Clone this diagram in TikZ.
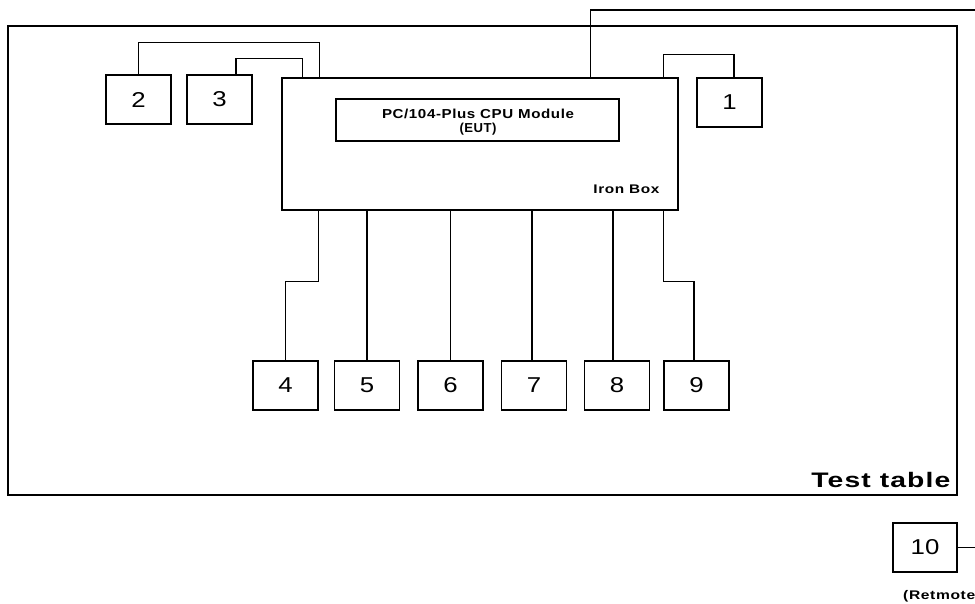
\documentclass[tikz,border=0pt]{standalone}
\usepackage{fontspec}
\setmainfont{Liberation Sans}
\newfontfamily\spaced{Liberation Sans}[LetterSpace=4]
\usetikzlibrary{calc}
\newcommand\wt[2]{\resizebox{#1}{\height}{#2}}
\newcommand\dg[1]{\scalebox{1.2}[1]{\fontsize{21.5}{21.5}\selectfont #1}}
\tikzset{
  frame/.style={draw=black, line width=1.2pt, rectangle, inner sep=0pt, fill=none},
  numbox/.style={frame, minimum width=65pt, minimum height=49pt},
  wire/.style={draw=black, line width=1.2pt},
  lbl/.style={inner sep=0pt, font=\spaced\bfseries}
}
\begin{document}
\begin{tikzpicture}[x=1pt, y=-1pt]
\useasboundingbox (0,0) rectangle (975,604);
% test table
\node[frame, minimum width=949pt, minimum height=469pt] (table) at (482.5,260.5) {};
\node[lbl, anchor=base east] (tt) at ([xshift=-7pt, yshift=8pt]table.south east) {\fontsize{21}{21}\selectfont\wt{139pt}{Test table}};
% iron box
\node[frame, minimum width=396pt, minimum height=132pt] (iron) at (480,144) {};
\node[lbl, anchor=base east] (ib) at ([xshift=-19pt, yshift=17pt]iron.south east) {\fontsize{12.5}{12}\selectfont\wt{66pt}{Iron Box}};
% cpu module
\node[frame, minimum width=283pt, minimum height=42pt] (cpu) at (477.5,120) {};
\node[lbl, anchor=base] (cpu1) at (478,119) {\fontsize{13}{13}\selectfont\wt{192pt}{PC/104-Plus CPU Module}};
\node[lbl, anchor=base] (cpu2) at (478,133) {\fontsize{13}{13}\selectfont\wt{37pt}{(EUT)}};
% peripheral boxes
\node[numbox] (b1) at (729.5,102.5) {\dg{1}};
\node[numbox] (b2) at (138.5,99.5) {\dg{2}};
\node[numbox] (b3) at (219.5,99.5) {\dg{3}};
\node[numbox] (b4) at (285.5,385.5) {\dg{4}};
\node[numbox] (b5) at (367,385.5) {\dg{5}};
\node[numbox] (b6) at (450.5,385.5) {\dg{6}};
\node[numbox] (b7) at (534,385.5) {\dg{7}};
\node[numbox] (b8) at (617,385.5) {\dg{8}};
\node[numbox] (b9) at (696.5,385.5) {\dg{9}};
\node[numbox, minimum width=64pt] (b10) at (925,547.5) {\dg{10}};
\node[lbl, anchor=base west] (rm) at (903,599) {\fontsize{12.5}{12}\selectfont\wt{72pt}{(Retmote}};
% free ends
\coordinate (edgeA) at (975,10);
\coordinate (edgeB) at (975,547.5);
% connectors top
\draw[wire] (b2.north) -- ++(0,-32) -| ([xshift=38pt]iron.north west);
\draw[wire] ([xshift=16.5pt]b3.north) -- ++(0,-16) -| ([xshift=21pt]iron.north west);
\draw[wire] ([xshift=4.5pt]b1.north) -- ++(0,-23) -| ([xshift=-15pt]iron.north east);
\draw[wire] ([xshift=-88pt]iron.north east) |- (edgeA);
% connectors bottom
\draw[wire] ([xshift=37pt]iron.south west) -- ++(0,71) -| (b4.north);
\draw[wire] (b5.north |- iron.south) -- (b5.north);
\draw[wire] (b6.north |- iron.south) -- (b6.north);
\draw[wire] ([xshift=-2pt]b7.north |- iron.south) -- ([xshift=-2pt]b7.north);
\draw[wire] ([xshift=-4pt]b8.north |- iron.south) -- ([xshift=-4pt]b8.north);
\draw[wire] ([xshift=-15pt]iron.south east) -- ++(0,71) -| ([xshift=-2.5pt]b9.north);
\draw[wire] (b10.east) -- (edgeB);
\end{tikzpicture}
\end{document}
